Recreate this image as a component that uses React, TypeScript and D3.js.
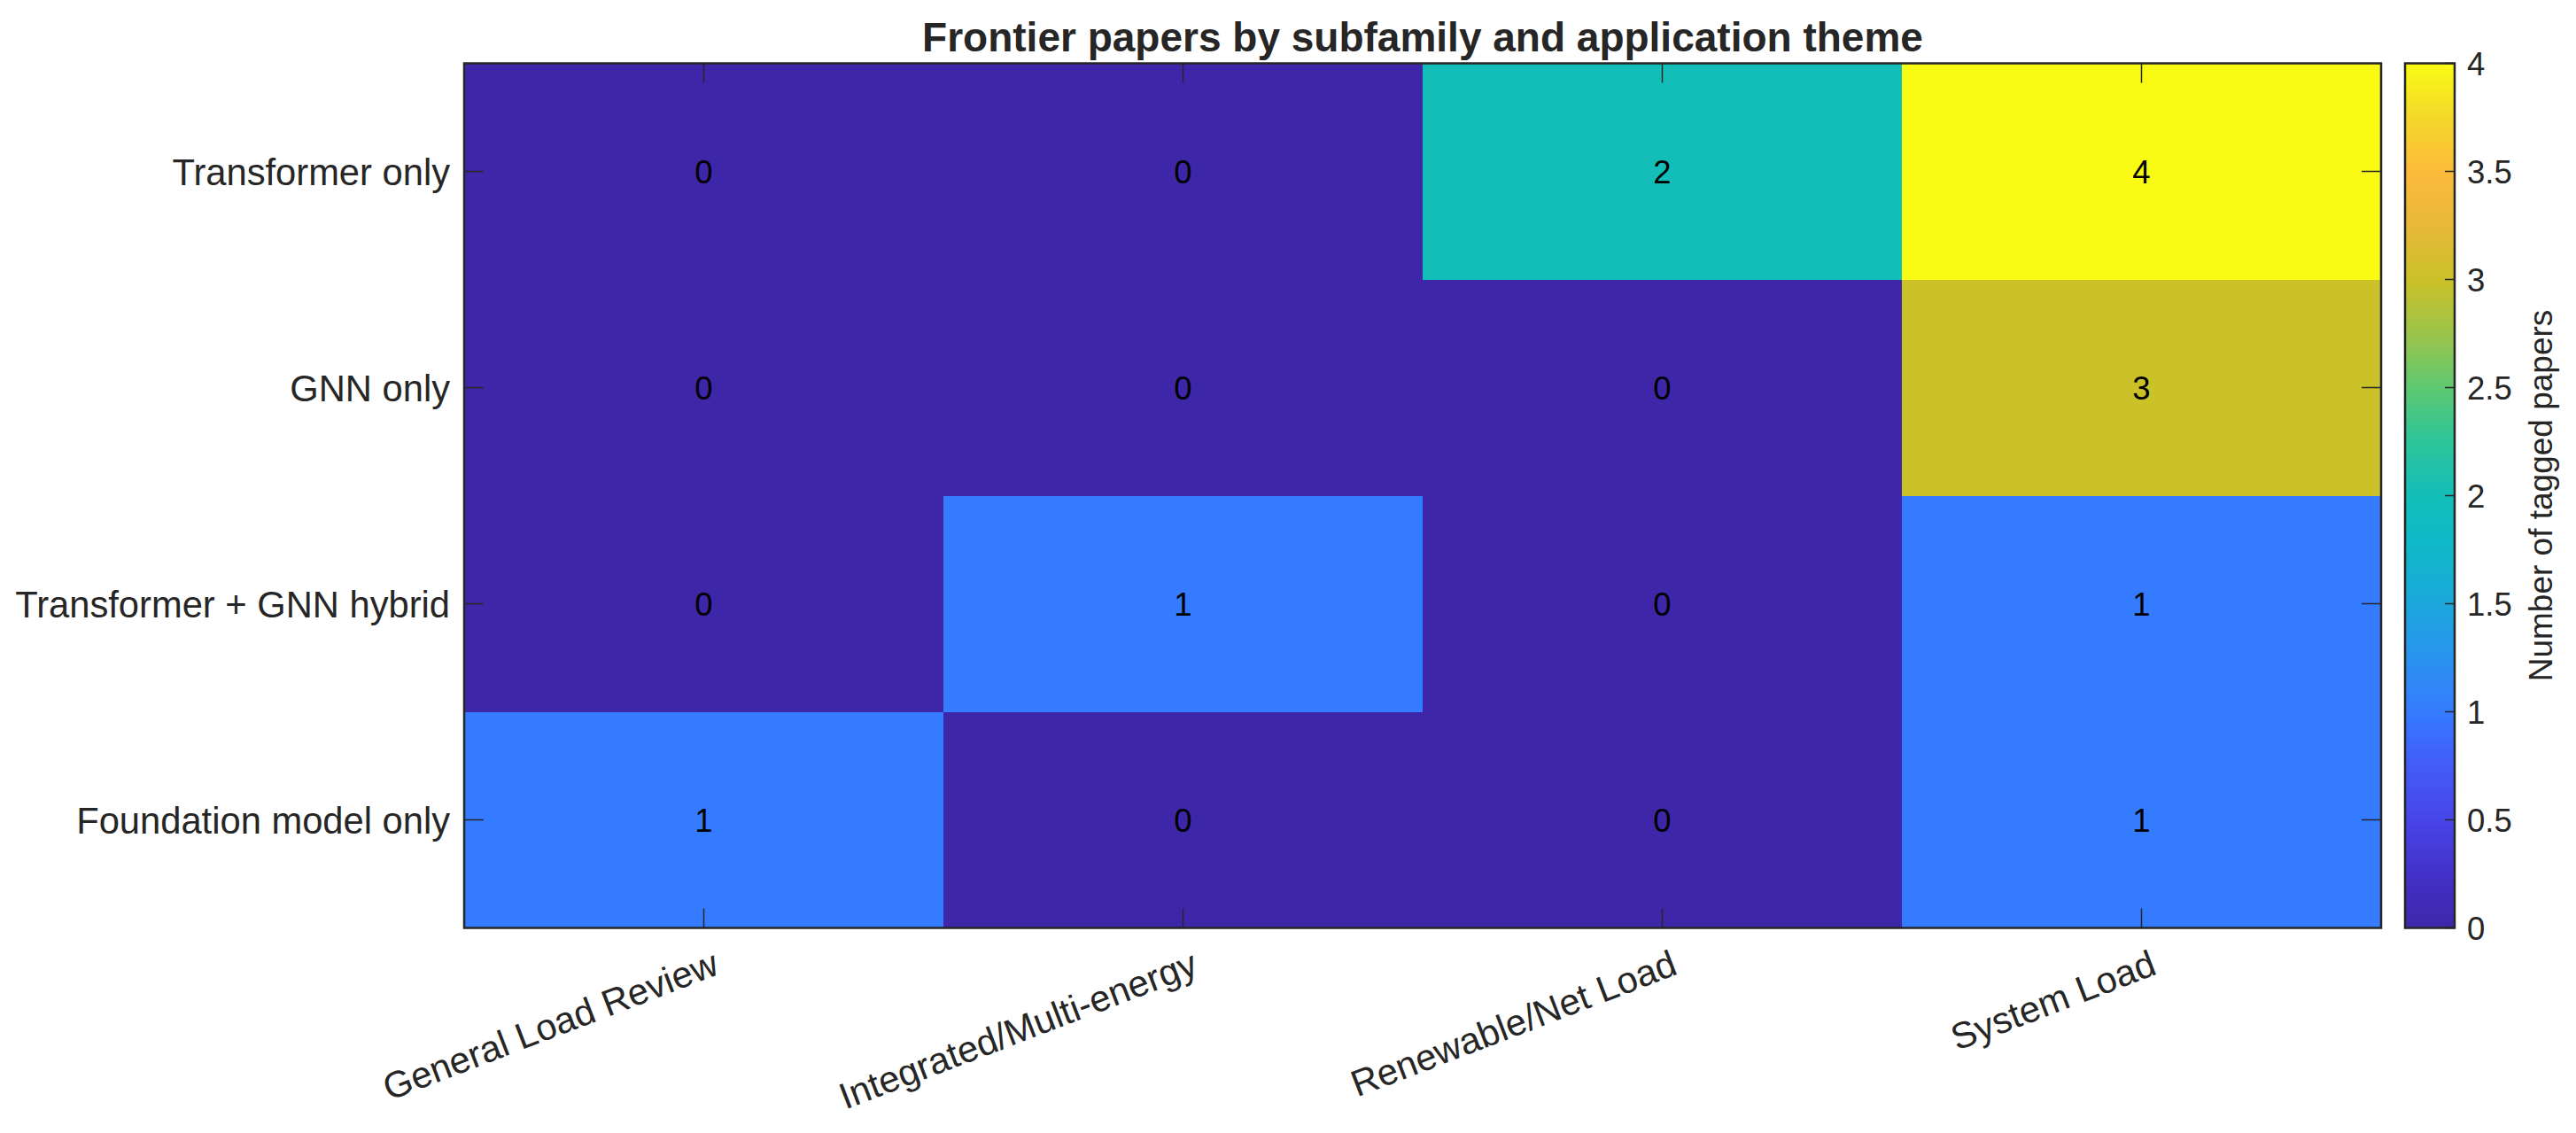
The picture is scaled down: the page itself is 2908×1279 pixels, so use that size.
import React from "react";
import * as d3 from "d3";

// ---- data ----
const subfamilies = ["Transformer only", "GNN only", "Transformer + GNN hybrid", "Foundation model only"];
const themes = ["General Load Review", "Integrated/Multi-energy", "Renewable/Net Load", "System Load"];
const transformerOnly = [0, 0, 2, 4];
const gnnOnly = [0, 0, 0, 3];
const hybrid = [0, 1, 0, 1];
const foundationOnly = [1, 0, 0, 1];
const colorbarTicks = [0, 0.5, 1, 1.5, 2, 2.5, 3, 3.5, 4];
const titleText = "Frontier papers by subfamily and application theme";
const colorbarLabel = "Number of tagged papers";

// parula-like colormap anchors (style)
const parulaStops = [0, 0.0625, 0.125, 0.1875, 0.25, 0.3125, 0.375, 0.4375, 0.5, 0.5625, 0.625, 0.6875, 0.75, 0.8125, 0.875, 0.9375, 1];
const parulaColors = [
  "#3e26a8", "#4331c9", "#4745e8", "#435cf9", "#357bff", "#2a93ee", "#1ba8dc", "#10b7c9",
  "#13beb8", "#2dc59a", "#5ec871", "#9cc44a", "#cbc128", "#e8b83a", "#fcba3b", "#f4d82a", "#f9fb15",
];

const W = 2908;
const H = 1279;
const FONT = "'Liberation Sans', Arial, Helvetica, sans-serif";
const TXT = "#262626";

export default function App() {
  const rows = [transformerOnly, gnnOnly, hybrid, foundationOnly];
  const left = 524, right = 2688, top = 71.5, bottom = 1047.5;
  const x = d3.scaleBand<string>().domain(themes).range([left, right]);
  const y = d3.scaleBand<string>().domain(subfamilies).range([top, bottom]);
  const cmin = 0, cmax = 4;
  const color = d3
    .scaleLinear<string>()
    .domain(parulaStops.map((t) => cmin + t * (cmax - cmin)))
    .range(parulaColors)
    .interpolate(d3.interpolateRgb);

  const cbL = 2715, cbR = 2771;
  const cbY = d3.scaleLinear().domain([cmin, cmax]).range([bottom, top]);
  const gradStops = d3.range(0, 101).map((i) => i / 100);
  const tickLen = 22;

  return (
    <svg width={W} height={H} style={{ position: "absolute", left: 0, top: 0, background: "#fff" }} fontFamily={FONT}>
      <defs>
        <linearGradient id="cbgrad" x1="0" y1="1" x2="0" y2="0">
          {gradStops.map((t) => (
            <stop key={t} offset={`${t * 100}%`} stopColor={color(cmin + t * (cmax - cmin))} />
          ))}
        </linearGradient>
      </defs>
      <rect x={0} y={0} width={W} height={H} fill="#fff" />

      {/* cells */}
      {rows.map((vals, ri) =>
        vals.map((v, ci) => (
          <rect
            key={`c${ri}-${ci}`}
            x={x(themes[ci])!}
            y={y(subfamilies[ri])!}
            width={x.bandwidth()}
            height={y.bandwidth()}
            fill={color(v)}
            shapeRendering="crispEdges"
          />
        ))
      )}
      {rows.map((vals, ri) =>
        vals.map((v, ci) => (
          <text
            key={`t${ri}-${ci}`}
            x={x(themes[ci])! + x.bandwidth() / 2}
            y={y(subfamilies[ri])! + y.bandwidth() / 2}
            dy="0.36em"
            textAnchor="middle"
            fontSize={36.5}
            fill="#000"
          >
            {v}
          </text>
        ))
      )}

      {/* ticks */}
      {themes.map((t) => {
        const cx = x(t)! + x.bandwidth() / 2;
        return (
          <g key={`xt${t}`} stroke={TXT} strokeWidth={1.5}>
            <line x1={cx} x2={cx} y1={bottom} y2={bottom - tickLen} />
            <line x1={cx} x2={cx} y1={top} y2={top + tickLen} />
          </g>
        );
      })}
      {subfamilies.map((s) => {
        const cy = y(s)! + y.bandwidth() / 2;
        return (
          <g key={`yt${s}`} stroke={TXT} strokeWidth={1.5}>
            <line x1={left} x2={left + tickLen} y1={cy} y2={cy} />
            <line x1={right} x2={right - tickLen} y1={cy} y2={cy} />
          </g>
        );
      })}
      <rect x={left} y={top} width={right - left} height={bottom - top} fill="none" stroke={TXT} strokeWidth={2.5} />

      {/* y labels */}
      {subfamilies.map((s) => (
        <text
          key={`yl${s}`}
          x={left - 16}
          y={y(s)! + y.bandwidth() / 2}
          dy="0.36em"
          textAnchor="end"
          fontSize={41.7}
          fill={TXT}
        >
          {s}
        </text>
      ))}

      {/* x labels */}
      {themes.map((t) => {
        const cx = x(t)! + x.bandwidth() / 2;
        return (
          <text
            key={`xl${t}`}
            transform={`translate(${cx + 19},${1099}) rotate(-21)`}
            textAnchor="end"
            fontSize={41.7}
            fill={TXT}
          >
            {t}
          </text>
        );
      })}

      {/* title */}
      <text x={(left + right) / 2} y={58} textAnchor="middle" fontSize={46} fontWeight="bold" fill={TXT}>
        {titleText}
      </text>

      {/* colorbar */}
      <rect x={cbL} y={top} width={cbR - cbL} height={bottom - top} fill="url(#cbgrad)" />
      {colorbarTicks.map((v) => (
        <g key={`cb${v}`}>
          <line x1={cbR} x2={cbR - 11} y1={cbY(v)} y2={cbY(v)} stroke={TXT} strokeWidth={1.5} />
          <text x={2785} y={cbY(v)} dy="0.36em" fontSize={36.5} fill={TXT}>
            {v}
          </text>
        </g>
      ))}
      <rect x={cbL} y={top} width={cbR - cbL} height={bottom - top} fill="none" stroke={TXT} strokeWidth={2.5} />
      <text
        transform={`translate(${2881},${(top + bottom) / 2}) rotate(-90)`}
        textAnchor="middle"
        fontSize={37}
        fill={TXT}
      >
        {colorbarLabel}
      </text>
    </svg>
  );
}
